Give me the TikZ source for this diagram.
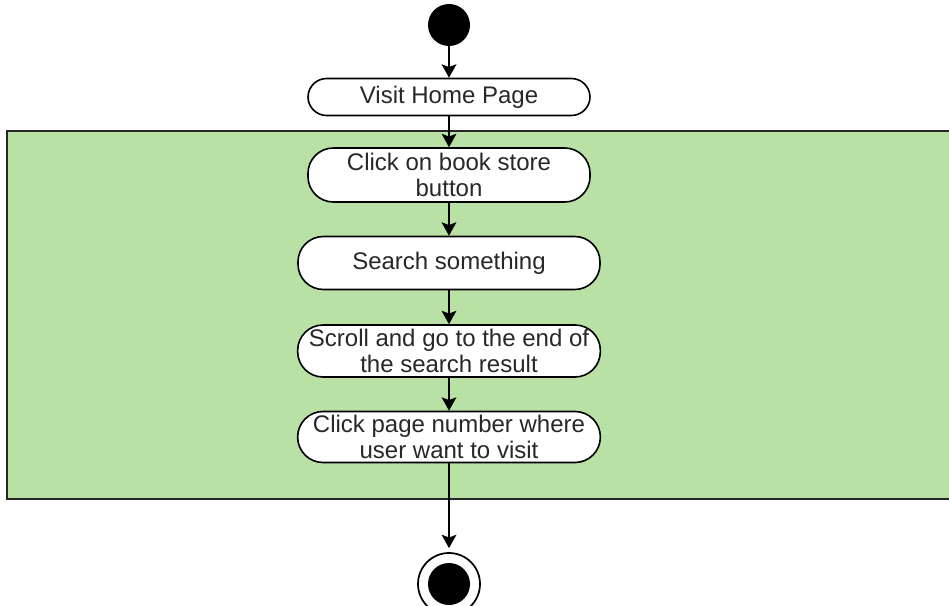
\documentclass[tikz,border=0pt]{standalone}
\usepackage{fontspec}
\setmainfont{Liberation Sans}
\usetikzlibrary{arrows.meta,positioning}
\definecolor{panelgreen}{RGB}{185,224,165}
\definecolor{labelgrey}{RGB}{40,40,40}

\begin{document}
\begin{tikzpicture}[x=0.75pt, y=-0.75pt,
        activity/.style={draw, line width=1.2pt, fill=white,
            rounded corners=19pt, align=center, inner sep=0pt,
            text=labelgrey, font=\fontsize{18}{19}\selectfont},
        flow/.style={-{Stealth[length=10pt, width=11pt, inset=2pt]},
            line width=1.4pt}]

        \useasboundingbox (0,0) rectangle (949,606);

        % Green region
        \path[fill=panelgreen, draw=black!85, line width=1.2pt]
            (7,131) rectangle (960,499);

        % Start
        \node[circle, fill=black, inner sep=0pt,
            minimum size=31.5pt] (start) at (449,25) {};

        % Activities
        \node[activity, rounded corners=14pt,
            minimum width=211.5pt, minimum height=27.75pt]
            (visit) at (449,97) {Visit Home Page};
        \node[activity, minimum width=211.5pt, minimum height=40.5pt]
            (bookstore) at (449,175) {Click on book store\\button};
        \node[activity, minimum width=226.5pt, minimum height=39.75pt]
            (search) at (449,263) {Search something};
        \node[activity, minimum width=227pt, minimum height=39pt]
            (scroll) at (449,351) {Scroll and go to the end of\\the search result};
        \node[activity, minimum width=227pt, minimum height=38.25pt]
            (pagenum) at (449,437) {Click page number where\\user want to visit};

        % End
        \node[circle, draw, line width=1.3pt, inner sep=0pt,
            minimum size=46.5pt] (end) at (449,584) {};
        \node[circle, fill=black, inner sep=0pt,
            minimum size=31.5pt] (enddot) at (end) {};

        % Connect activities
        \draw[flow] (start) -- (visit);
        \draw[flow] (visit) -- (bookstore);
        \draw[flow] (bookstore) -- (search);
        \draw[flow] (search) -- (scroll);
        \draw[flow] (scroll) -- (pagenum);
        \draw[flow, shorten >=3pt] (pagenum) -- (end);

    \end{tikzpicture}
\end{document}
